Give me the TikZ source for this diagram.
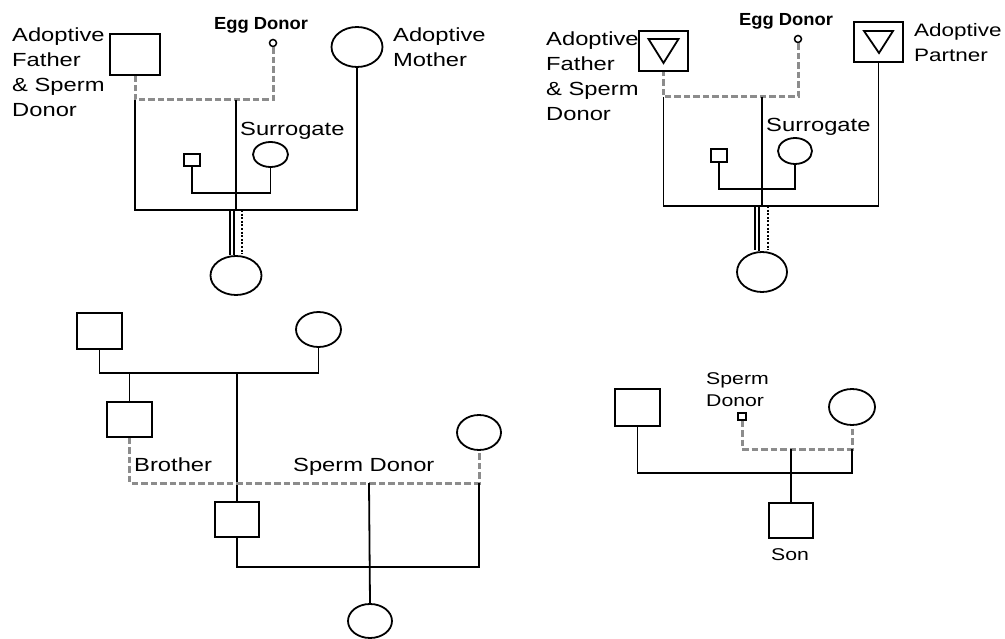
\documentclass[tikz,border=0pt]{standalone}
\usepackage{fontspec}
\setmainfont{Liberation Sans}[FakeStretch=1.25]
\newfontfamily\eggfont{Liberation Sans}[FakeStretch=1.05]
\usetikzlibrary{shapes.geometric}
\begin{document}
\begin{tikzpicture}[x=1pt,y=-1pt,
  line/.style={line width=1.8, line join=miter},
  donor/.style={line width=3, draw={rgb,255:red,140;green,140;blue,140}, dash pattern=on 6.5 off 3},
  dotline/.style={line width=1.8, dash pattern=on 2 off 1.6},
  male/.style={draw, line width=1.8, rectangle, inner sep=0},
  female/.style={draw, line width=1.8, ellipse, inner sep=0},
  tinyc/.style={draw, line width=1.5, circle, inner sep=0, minimum size=7},
  lab/.style={inner sep=0, font=\fontsize{19}{25}\selectfont},
  smalllab/.style={inner sep=0, font=\fontsize{17}{22}\selectfont},
  egglab/.style={inner sep=0, font=\eggfont\bfseries\fontsize{17.5}{20}\selectfont}
]
\useasboundingbox (0,0) rectangle (1005,639);

% ================= Top left =================
\node[male, minimum width=50, minimum height=41] (tlF) at (135,54.5) {};
\node[tinyc] (tlE) at (273,43) {};
\node[female, minimum width=51, minimum height=40] (tlM) at (357,47) {};
\node[female, minimum width=35, minimum height=25] (tlS) at (270.5,154.5) {};
\node[male, minimum width=16, minimum height=12] (tlB) at (192,160) {};
\node[female, minimum width=51, minimum height=39] (tlC) at (236,275.5) {};
\coordinate (tlDJ) at (236,100);
\coordinate (tlML) at (236,210);
\coordinate (tlSJ) at (236,193);

\node[lab, anchor=north west, align=left] (tlFl) at (12,28) {Adoptive\\Father\\\& Sperm\\Donor};
\node[egglab, anchor=base] (tlEl) at (261,29.5) {Egg Donor};
\node[lab, anchor=base west] (tlSl) at (240,136) {Surrogate};
\node[lab, anchor=north west, align=left] (tlMl) at (393,27.5) {Adoptive\\Mother};

\draw[donor] (tlE.south) |- (tlF.south |- tlDJ) -- (tlF.south);
\draw[line] (tlF.south |- tlDJ) |- (tlML) -| (tlM.south);
\draw[line] (tlDJ) -- (tlML);
\draw[line] (tlB.south) |- (tlSJ) -| (tlS.south);
\draw[line] ([xshift=-6]tlML) -- ([xshift=-6]tlC.north);
\draw[line] ([xshift=-2]tlML) -- ([xshift=-2]tlC.north);
\draw[dotline] ([xshift=6]tlML) -- ([xshift=6,yshift=1]tlC.north);

% ================= Top right =================
\node[male, minimum width=49, minimum height=40] (trF) at (663.5,51) {};
\node[male, minimum width=49, minimum height=40] (trP) at (878.5,42) {};
\node[tinyc] (trE) at (798,39) {};
\node[female, minimum width=34, minimum height=26] (trS) at (795,151) {};
\node[male, minimum width=16, minimum height=13] (trB) at (719,155.5) {};
\node[female, minimum width=50, minimum height=40] (trC) at (762,272) {};
\coordinate (trDJ) at (762,97);
\coordinate (trML) at (762,206);
\coordinate (trSJ) at (762,189);

\draw[line] ([shift={(-15,-12)}]trF.center) -- ([shift={(15,-12)}]trF.center) -- ([shift={(0,12)}]trF.center) -- cycle;
\draw[line] ([shift={(-14.5,-11)}]trP.center) -- ([shift={(14.5,-11)}]trP.center) -- ([shift={(0.5,11)}]trP.center) -- cycle;

\node[lab, anchor=north west, align=left] (trFl) at (546,31.5) {Adoptive\\Father\\\& Sperm\\Donor};
\node[egglab, anchor=base] (trEl) at (786,26) {Egg Donor};
\node[lab, anchor=base west] (trSl) at (766,132) {Surrogate};
\node[lab, anchor=north west, align=left, font=\fontsize{18}{25}\selectfont] (trPl) at (914,23) {Adoptive\\Partner};

\draw[donor] (trE.south) |- (trF.south |- trDJ) -- (trF.south);
\draw[line] (trF.south |- trDJ) |- (trML) -| (trP.south);
\draw[line] (trDJ) -- (trML);
\draw[line] (trB.south) |- (trSJ) -| (trS.south);
\draw[line] ([xshift=-7]trML) -- ([xshift=-7,yshift=1]trC.north);
\draw[line] ([xshift=-3]trML) -- ([xshift=-3]trC.north);
\draw[dotline] ([xshift=6]trML) -- ([xshift=6,yshift=1]trC.north);

% ================= Bottom left =================
\node[male, minimum width=45, minimum height=36] (blGF) at (99.5,331) {};
\node[female, minimum width=45, minimum height=35] (blGM) at (318.5,329.5) {};
\node[male, minimum width=45, minimum height=35] (blBr) at (129.5,419.5) {};
\node[male, minimum width=44, minimum height=35] (blP) at (237,519.5) {};
\node[female, minimum width=44, minimum height=35] (blW) at (479,432.5) {};
\node[female, minimum width=44, minimum height=34] (blC) at (370,621) {};
\coordinate (blML) at (237,373);
\coordinate (blDJ) at (369,483);
\coordinate (blML2) at (369,567);

\node[lab, anchor=base west] (blBl) at (134,471.5) {Brother};
\node[lab, anchor=base west] (blSl) at (293,471) {Sperm Donor};

\draw[line] (blGF.south) |- (blML) -| (blGM.south);
\draw[line] (blBr.north |- blML) -- (blBr.north);
\draw[line] (blML) -- (blP.north);
\draw[donor] (blBr.south) |- (blDJ) -| (blW.south);
\draw[line] (blP.south) |- (blML2) -| (blW.south |- blDJ);
\draw[line] (blDJ) -- (blC.north);

% ================= Bottom right =================
\node[male, minimum width=45, minimum height=37] (brF) at (637.5,407.5) {};
\node[female, minimum width=46, minimum height=36] (brM) at (852,407) {};
\node[male, minimum width=8, minimum height=7, line width=1.4] (brD) at (742,416.5) {};
\node[male, minimum width=44, minimum height=35] (brS) at (791,520.5) {};
\coordinate (brDJ) at (791,449);
\coordinate (brML) at (791,473);

\node[smalllab, anchor=north west, align=left] (brDl) at (706,372.5) {Sperm\\Donor};
\node[smalllab, anchor=base] (brSl) at (790,560) {Son};

\draw[donor] (brD.south) |- (brDJ) -| (brM.south);
\draw[line] (brF.south) |- (brML) -| (brM.south |- brDJ);
\draw[line] (brDJ) -- (brS.north);
\end{tikzpicture}
\end{document}
